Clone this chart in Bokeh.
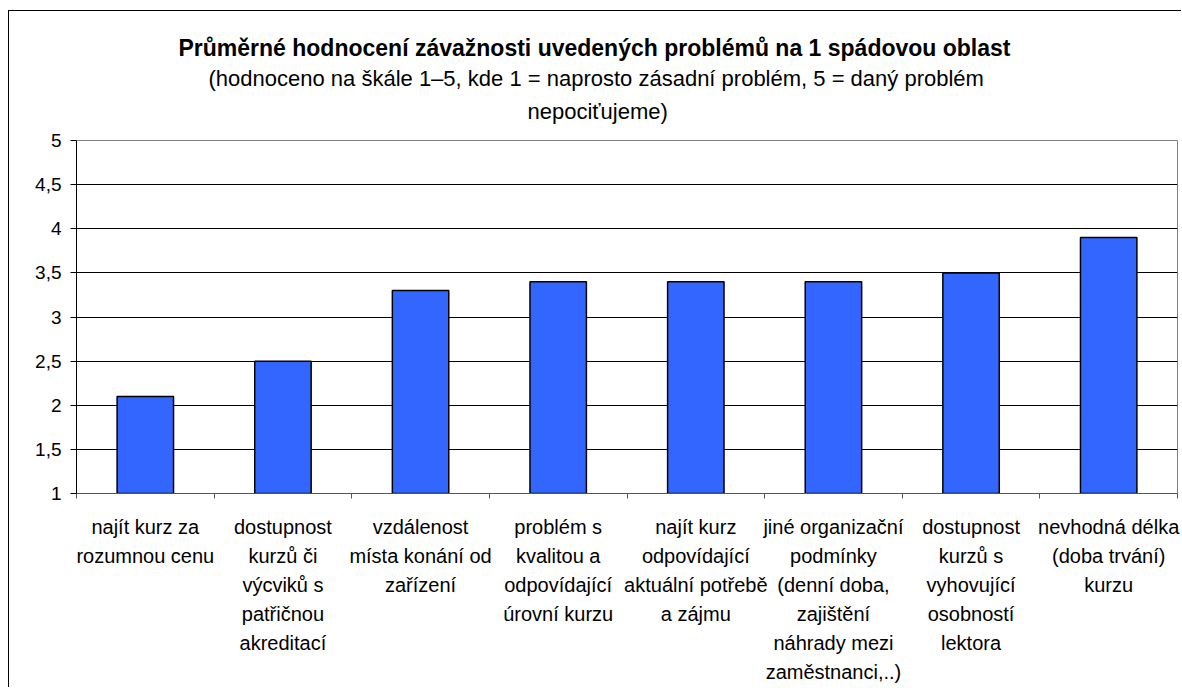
from bokeh.plotting import figure
from bokeh.models import Range1d, FixedTicker, CustomJSTickFormatter, Title
from bokeh.embed import file_html
from bokeh.resources import INLINE

title_text = "Průměrné hodnocení závažnosti uvedených problémů na 1 spádovou oblast"
subtitle_lines = [
    "(hodnoceno na škále 1–5, kde 1 = naprosto zásadní problém, 5 = daný problém",
    "nepociťujeme)",
]
categories = [
    "najít kurz za\nrozumnou cenu",
    "dostupnost\nkurzů či\nvýcviků s\npatřičnou\nakreditací",
    "vzdálenost\nmísta konání od\nzařízení",
    "problém s\nkvalitou a\nodpovídající\núrovní kurzu",
    "najít kurz\nodpovídající\naktuální potřebě\na zájmu",
    "jiné organizační\npodmínky\n(denní doba,\nzajištění\nnáhrady mezi\nzaměstnanci,..)",
    "dostupnost\nkurzů s\nvyhovující\nosobností\nlektora",
    "nevhodná délka\n(doba trvání)\nkurzu",
]
values = [2.1, 2.5, 3.3, 3.4, 3.4, 3.4, 3.5, 3.9]
y_ticks = [1, 1.5, 2, 2.5, 3, 3.5, 4, 4.5, 5]

FONT = "Liberation Sans"
n = len(categories)
xs = [i + 0.5 for i in range(n)]

p = figure(
    width=1173, height=677,
    output_backend="svg", toolbar_location=None,
    x_range=Range1d(0, n), y_range=Range1d(y_ticks[0], y_ticks[-1]),
    min_border_left=67, min_border_right=5, min_border_top=129, min_border_bottom=195,
    background_fill_color="white", border_fill_color="white",
    title=title_text,
)
p.styles = {"border-left": "1px solid #000", "border-top": "1px solid #000",
            "margin-top": "10px", "margin-left": "8px"}
p.outline_line_color = "#808080"
p.outline_line_width = 1

# titles (stacked above the frame, nearest first)
p.add_layout(Title(text=" ", text_font=FONT, text_font_size="1px", standoff=10), "above")
p.add_layout(Title(text=subtitle_lines[1], text_font=FONT, text_font_size="22px",
                   text_font_style="normal", text_color="#000000",
                   align="left", offset=451, standoff=6, vertical_align="middle"), "above")
p.add_layout(Title(text=subtitle_lines[0], text_font=FONT, text_font_size="22px",
                   text_font_style="normal", text_color="#000000",
                   align="left", offset=132, standoff=6, vertical_align="middle"), "above")
p.title.text_font = FONT
p.title.text_font_size = "23px"
p.title.text_font_style = "bold"
p.title.text_color = "#000000"
p.title.align = "left"
p.title.offset = 102
p.title.standoff = 0
p.title.vertical_align = "middle"

# grid
p.xgrid.visible = False
p.ygrid.ticker = FixedTicker(ticks=y_ticks)
p.ygrid.grid_line_color = "#000000"
p.ygrid.grid_line_width = 1

# y axis
p.yaxis.ticker = FixedTicker(ticks=y_ticks)
p.yaxis.formatter = CustomJSTickFormatter(code="return tick.toString().replace('.', ',');")
p.yaxis.major_label_text_font = FONT
p.yaxis.major_label_text_font_size = "19px"
p.yaxis.major_label_text_color = "#000000"
p.yaxis.major_label_standoff = 9
p.yaxis.major_tick_in = 0
p.yaxis.major_tick_out = 6
p.yaxis.minor_tick_line_color = None
p.yaxis.axis_line_color = "#000000"
p.yaxis.major_tick_line_color = "#000000"

# x axis: labels at category centres, tick marks (minor) at boundaries
p.xaxis.ticker = FixedTicker(ticks=xs, minor_ticks=list(range(n + 1)))
p.xaxis.formatter = CustomJSTickFormatter(args=dict(labels=categories),
                                          code="return labels[Math.floor(tick)];")
p.xaxis.major_label_text_font = FONT
p.xaxis.major_label_text_font_size = "20px"
p.xaxis.major_label_text_color = "#000000"
p.xaxis.major_label_text_line_height = 1.32
p.xaxis.major_label_standoff = 17
p.xaxis.major_tick_in = 0
p.xaxis.major_tick_out = 0
p.xaxis.major_tick_line_color = None
p.xaxis.minor_tick_in = 0
p.xaxis.minor_tick_out = 5
p.xaxis.minor_tick_line_color = "#555555"
p.xaxis.axis_line_color = "#555555"

p.vbar(x=xs, top=values, bottom=y_ticks[0], width=0.41,
       fill_color="#3366FF", line_color="#000000", line_width=1.5)

open("out.html", "w").write(file_html(p, INLINE))
